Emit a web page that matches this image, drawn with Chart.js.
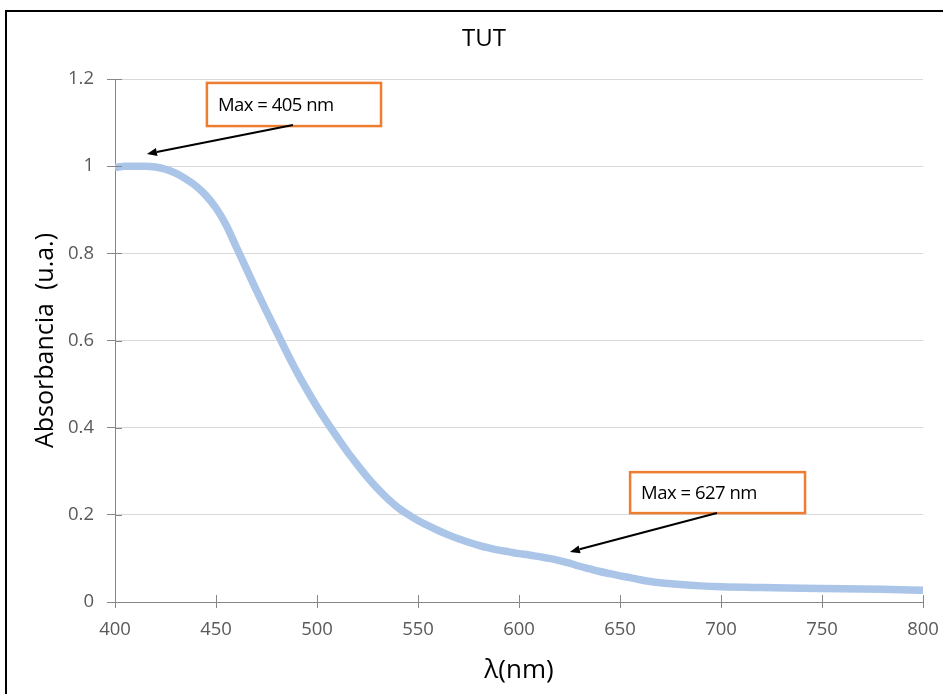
<!DOCTYPE html>
<html>
<head>
<meta charset="utf-8">
<title>TUT</title>
<script src="https://cdn.jsdelivr.net/npm/chart.js@4"></script>
<style>
  html, body { margin: 0; padding: 0; background: #fff; overflow: hidden; }
  #wrap { position: relative; width: 943px; height: 694px; }
</style>
</head>
<body>
<div id="wrap"><canvas id="chart" width="943" height="694"></canvas></div>
<script>
// longitudes de onda (nm) y absorbancia
const wavelengths = [
  400, 405, 410, 415, 420, 425, 430, 435, 440, 445, 450, 455, 460, 465, 470,
  475, 480, 485, 490, 495, 500, 505, 510, 515, 520, 525, 530, 535, 540, 545,
  550, 555, 560, 565, 570, 575, 580, 585, 590, 595, 600, 605, 610, 615, 620,
  625, 630, 635, 640, 645, 650, 655, 660, 665, 670, 680, 690, 700, 720, 750,
  780, 800
];
const absorbance = [
  0.997, 1.0, 1.0, 1.0, 0.998, 0.993, 0.984, 0.971, 0.955, 0.933, 0.904,
  0.865, 0.815, 0.765, 0.715, 0.667, 0.62, 0.573, 0.528, 0.487, 0.448, 0.412,
  0.378, 0.345, 0.315, 0.286, 0.26, 0.237, 0.217, 0.201, 0.187, 0.175, 0.164,
  0.154, 0.145, 0.137, 0.13, 0.124, 0.119, 0.115, 0.111, 0.108, 0.104, 0.1,
  0.095, 0.089, 0.082, 0.076, 0.07, 0.065, 0.06, 0.056, 0.051, 0.047, 0.044,
  0.04, 0.037, 0.035, 0.033, 0.031, 0.029, 0.027
];
const xTicks = [400, 450, 500, 550, 600, 650, 700, 750, 800];
const yTicks = [0, 0.2, 0.4, 0.6, 0.8, 1, 1.2];

// anotaciones (en coordenadas de datos)
const notes = [
  { text: "Max = 405 nm", box: [445.5, 1.191, 531.7, 1.092], from: [488.1, 1.0945], to: [415.8, 1.028] },
  { text: "Max = 627 nm", box: [655, 0.298, 741.6, 0.204], from: [698, 0.204], to: [625.2, 0.115] }
];

const textFont = "'Open Sans', 'Liberation Sans', sans-serif";
const axisGrey = "#868686";

// marco negro alrededor del grafico
const framePlugin = {
  id: "frame",
  beforeDraw(chart) {
    const ctx = chart.ctx;
    ctx.save();
    ctx.fillStyle = "#fff";
    ctx.fillRect(0, 0, chart.width, chart.height);
    ctx.strokeStyle = "#000";
    ctx.lineWidth = 2;
    ctx.strokeRect(6, 11, 1000, 1000);
    ctx.restore();
  },
  // marcas de division que cruzan el eje (estilo Excel)
  afterDraw(chart) {
    const ctx = chart.ctx;
    const xs = chart.scales.x;
    const ys = chart.scales.y;
    ctx.save();
    ctx.strokeStyle = axisGrey;
    ctx.lineWidth = 1;
    ctx.beginPath();
    xs.ticks.forEach((t) => {
      const px = Math.round(xs.getPixelForValue(t.value)) + 0.5;
      ctx.moveTo(px, xs.top - 7);
      ctx.lineTo(px, xs.top);
    });
    ys.ticks.forEach((t) => {
      const py = Math.round(ys.getPixelForValue(t.value)) + 0.5;
      ctx.moveTo(ys.right, py);
      ctx.lineTo(ys.right + 7, py);
    });
    ctx.stroke();
    ctx.restore();
  }
};

// cajas y flechas de "Max"
const notesPlugin = {
  id: "notes",
  afterDatasetsDraw(chart) {
    const ctx = chart.ctx;
    const xs = chart.scales.x;
    const ys = chart.scales.y;
    ctx.save();
    notes.forEach((n) => {
      const x1 = xs.getPixelForValue(n.box[0]);
      const y1 = ys.getPixelForValue(n.box[1]);
      const x2 = xs.getPixelForValue(n.box[2]);
      const y2 = ys.getPixelForValue(n.box[3]);
      ctx.fillStyle = "#fff";
      ctx.fillRect(x1, y1, x2 - x1, y2 - y1);
      ctx.strokeStyle = "#ed7d31";
      ctx.lineWidth = 2.5;
      ctx.strokeRect(x1, y1, x2 - x1, y2 - y1);
      ctx.fillStyle = "#000";
      ctx.font = "18.5px " + textFont;
      ctx.letterSpacing = "-0.5px";
      ctx.textBaseline = "middle";
      ctx.textAlign = "left";
      ctx.fillText(n.text, x1 + 11, (y1 + y2) / 2 + 1);
      ctx.letterSpacing = "0px";

      // flecha
      const fx = xs.getPixelForValue(n.from[0]);
      const fy = ys.getPixelForValue(n.from[1]);
      const tx = xs.getPixelForValue(n.to[0]);
      const ty = ys.getPixelForValue(n.to[1]);
      const ang = Math.atan2(ty - fy, tx - fx);
      const head = 10;
      const bx = tx - Math.cos(ang) * head;
      const by = ty - Math.sin(ang) * head;
      ctx.strokeStyle = "#000";
      ctx.lineWidth = 2;
      ctx.beginPath();
      ctx.moveTo(fx, fy);
      ctx.lineTo(bx, by);
      ctx.stroke();
      ctx.fillStyle = "#000";
      ctx.beginPath();
      ctx.moveTo(tx, ty);
      ctx.lineTo(bx + Math.sin(ang) * 4, by - Math.cos(ang) * 4);
      ctx.lineTo(bx - Math.sin(ang) * 4, by + Math.cos(ang) * 4);
      ctx.closePath();
      ctx.fill();
    });
    ctx.restore();
  }
};

const ctx = document.getElementById("chart").getContext("2d");
new Chart(ctx, {
  type: "line",
  data: {
    datasets: [
      {
        label: "TUT",
        data: wavelengths.map((w, i) => ({ x: w, y: absorbance[i] })),
        borderColor: "#aac5e7",
        borderWidth: 7.5,
        pointRadius: 0,
        cubicInterpolationMode: "monotone",
        fill: false
      }
    ]
  },
  options: {
    responsive: false,
    animation: false,
    layout: { padding: { left: 45, right: 20, top: 20, bottom: 0 } },
    plugins: {
      legend: { display: false },
      tooltip: { enabled: false },
      title: {
        display: true,
        text: "TUT",
        color: "#000",
        font: { family: textFont, size: 24, weight: "normal", lineHeight: 1.2 },
        padding: { top: 5, bottom: 25.2 }
      }
    },
    scales: {
      x: {
        type: "linear",
        min: 400,
        max: 800,
        afterFit: (s) => {
          s.height = 92;
          s.paddingLeft = 0;
          s.paddingRight = 0;
        },
        afterBuildTicks: (s) => { s.ticks = xTicks.map((v) => ({ value: v })); },
        grid: { drawOnChartArea: false, tickLength: 6, tickColor: axisGrey, tickWidth: 1 },
        border: { color: axisGrey, width: 1 },
        ticks: { color: "#595959", padding: 11, maxRotation: 0, font: { family: textFont, size: 18.5 } },
        title: {
          display: true,
          text: "λ(nm)",
          color: "#000",
          font: { family: textFont, size: 26, lineHeight: 1.2 },
          padding: { top: 0, bottom: 8 }
        }
      },
      y: {
        min: 0,
        max: 1.2,
        afterFit: (s) => { s.width = 70; },
        afterBuildTicks: (s) => { s.ticks = yTicks.map((v) => ({ value: v })); },
        grid: { color: "#d9d9d9", lineWidth: 1, tickLength: 8, tickColor: axisGrey },
        border: { color: axisGrey, width: 1 },
        ticks: {
          color: "#595959",
          padding: 13,
          font: { family: textFont, size: 18.5 },
          callback: (v) => String(Math.round(v * 10) / 10)
        },
        title: {
          display: true,
          text: "Absorbancia  (u.a.)",
          color: "#000",
          font: { family: textFont, size: 25, lineHeight: 1 },
          padding: { top: -11.5, bottom: 0 }
        }
      }
    }
  },
  plugins: [framePlugin, notesPlugin]
});
</script>
</body>
</html>
